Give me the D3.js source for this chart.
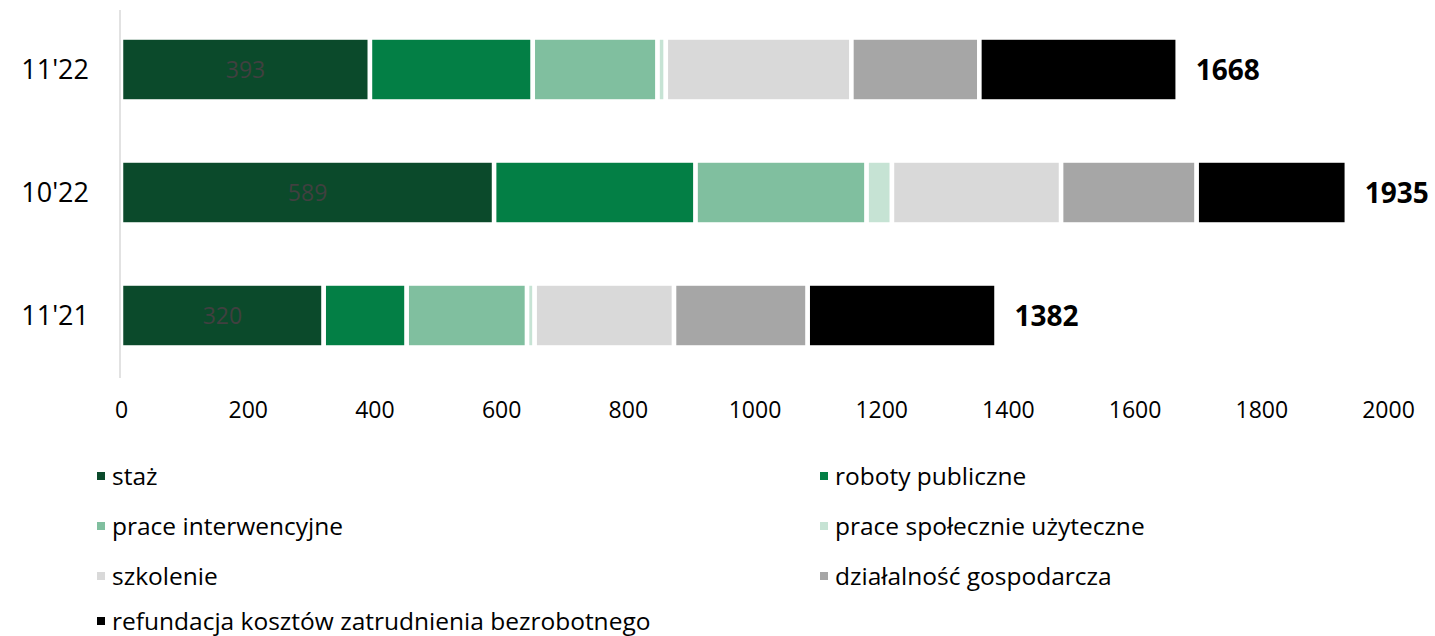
<!DOCTYPE html>
<html><head><meta charset="utf-8">
<script src="https://cdn.jsdelivr.net/npm/d3@7"></script>
<style>body{margin:0;background:#fff}svg{display:block}</style>
</head><body>
<svg id="c" width="1435" height="636"></svg>
<script>
const categories = ["11'22", "10'22", "11'21"];
const seriesNames = ["staż","roboty publiczne","prace interwencyjne","prace społecznie użyteczne","szkolenie","działalność gospodarcza","refundacja kosztów zatrudnienia bezrobotnego"];
const staz = [393, 589, 320];
const roboty = [257, 318, 131];
const interwencyjne = [197, 270, 190];
const spoleczne = [13, 40, 12];
const szkolenie = [293, 267, 220];
const dzialalnosc = [202, 214, 211];
const refundacja = [313, 237, 298];
const totals = [1668, 1935, 1382];
const xTicks = [0,200,400,600,800,1000,1200,1400,1600,1800,2000];
const colors = ["#0b4a2b","#037f45","#80bf9f","#c6e3d4","#d9d9d9","#a6a6a6","#000000"];

const seriesVals = [staz, roboty, interwencyjne, spoleczne, szkolenie, dzialalnosc, refundacja];
const FONT = "'Open Sans',sans-serif";
const svg = d3.select("#c");
const x = d3.scaleLinear().domain([0,2000]).range([121,1388]);
const y = d3.scaleBand().domain(categories).range([8,377]).paddingInner(0.48).paddingOuter(0.24);

const rows = categories.map((c,i)=>{ const o={cat:c}; seriesNames.forEach((s,j)=>o[s]=seriesVals[j][i]); return o; });
const stack = d3.stack().keys(seriesNames)(rows);

stack.forEach((layer,j)=>{
  svg.append("g").selectAll("rect").data(layer).join("rect")
    .attr("x",d=>x(d[0])).attr("width",d=>x(d[1])-x(d[0]))
    .attr("y",(d,i)=>y(categories[i])).attr("height",y.bandwidth())
    .attr("fill",colors[j]).attr("stroke","#fff").attr("stroke-width",4.5);
});

// axis line
svg.append("line").attr("x1",120).attr("x2",120).attr("y1",10).attr("y2",378)
  .attr("stroke","#d9d9d9").attr("stroke-width",1.5);

// inner labels for staż
svg.append("g").selectAll("text").data(stack[0]).join("text")
  .attr("x",d=>(x(d[0])+x(d[1]))/2).attr("y",(d,i)=>y(categories[i])+y.bandwidth()/2)
  .attr("dy","0.35em").attr("text-anchor","middle")
  .attr("font-family",FONT).attr("font-size",23).attr("fill","#404040")
  .text(d=>d.data[seriesNames[0]]);

// totals
svg.append("g").selectAll("text").data(totals).join("text")
  .attr("x",d=>x(d)+18).attr("y",(d,i)=>y(categories[i])+y.bandwidth()/2)
  .attr("dy","0.36em").attr("font-family",FONT).attr("font-weight","bold")
  .attr("font-size",28).attr("fill","#000").text(d=>d);

// y labels
svg.append("g").selectAll("text").data(categories).join("text")
  .attr("x",89).attr("y",c=>y(c)+y.bandwidth()/2).attr("dy","0.36em")
  .attr("text-anchor","end").attr("font-family",FONT).attr("font-size",27)
  .attr("fill","#000").text(c=>c);

// x axis
const ax = svg.append("g").attr("transform","translate(0,402)")
  .call(d3.axisBottom(x).tickValues(xTicks).tickSize(0).tickPadding(0).tickFormat(d3.format("d")));
ax.select(".domain").remove();
ax.selectAll("text").attr("font-family",FONT).attr("font-size",23).attr("fill","#000").attr("dy","0.71em");

// legend
const legPos = [[97,476],[820,476],[97,526],[820,526],[97,576],[820,576],[97,621]];
const lg = svg.append("g").selectAll("g").data(seriesNames).join("g")
  .attr("transform",(d,i)=>`translate(${legPos[i][0]},${legPos[i][1]})`);
lg.append("rect").attr("x",0).attr("y",-4).attr("width",8).attr("height",8).attr("fill",(d,i)=>colors[i]);
lg.append("text").attr("x",15).attr("y",0).attr("dy","0.35em").attr("font-family",FONT)
  .attr("font-size",24.5).attr("fill","#000").text(d=>d);
</script>
</body></html>
